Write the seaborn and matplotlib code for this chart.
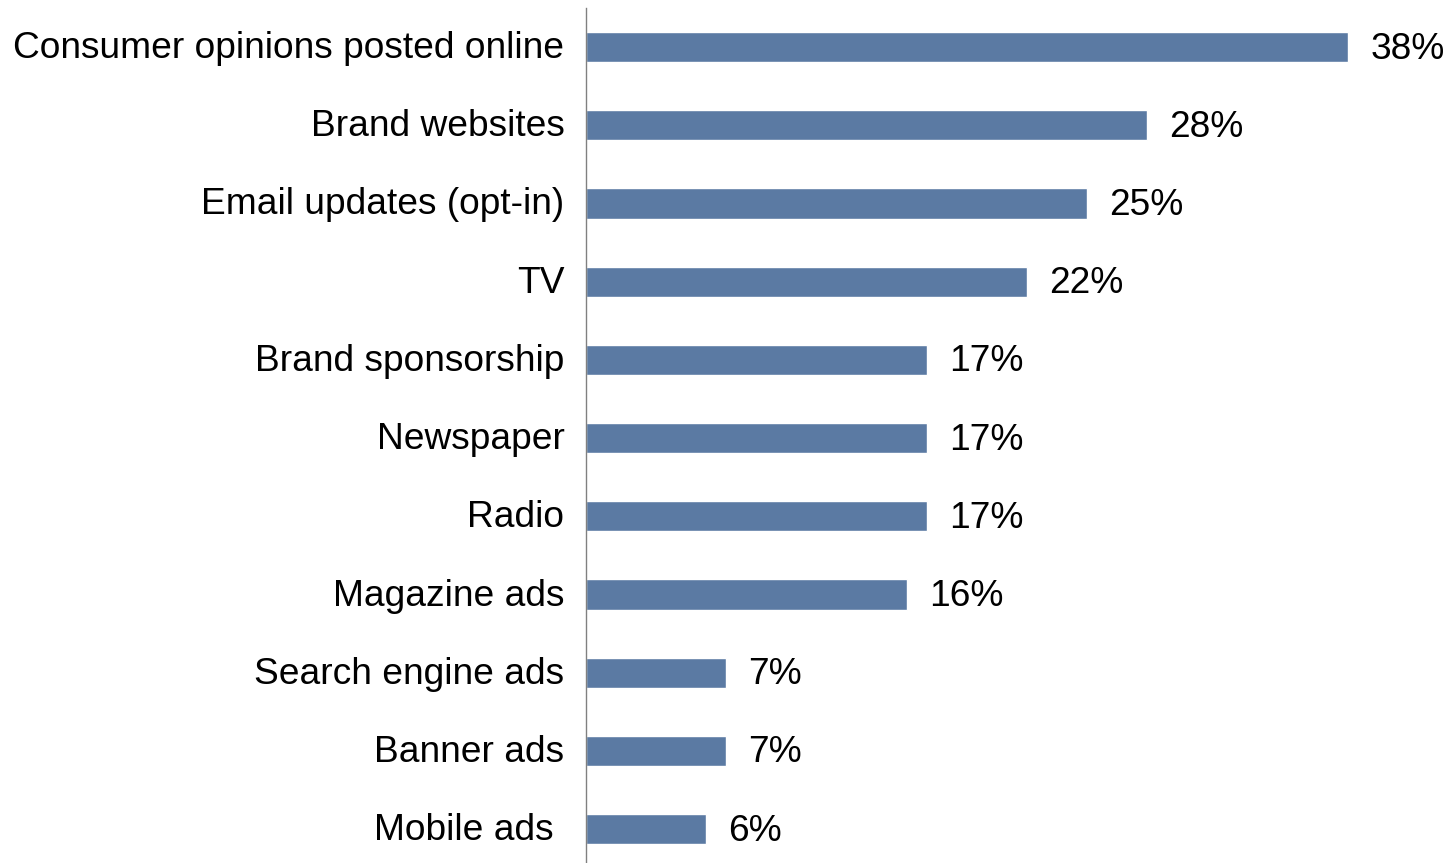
import matplotlib
matplotlib.use("Agg")
import matplotlib.pyplot as plt
import matplotlib.transforms as mtransforms
import seaborn as sns
import pandas as pd

categories = [
    "Consumer opinions posted online",
    "Brand websites",
    "Email updates (opt-in)",
    "TV",
    "Brand sponsorship",
    "Newspaper",
    "Radio",
    "Magazine ads",
    "Search engine ads",
    "Banner ads",
    "Mobile ads ",
]
values = [38, 28, 25, 22, 17, 17, 17, 16, 7, 7, 6]

df = pd.DataFrame({"channel": categories, "share": values})

sns.set_theme(style="white")
plt.rcParams["font.family"] = ["Liberation Sans", "DejaVu Sans"]

W, H, DPI = 1448, 863, 100
fig = plt.figure(figsize=(W / DPI, H / DPI), dpi=DPI)

px_per_unit = 20.05
left_px, top_px = 586, 8
ax_w = 40 * px_per_unit
ax = fig.add_axes([left_px / W, 0, ax_w / W, (H - top_px) / H])

sns.barplot(data=df, x="share", y="channel", orient="h", ax=ax,
            color="#5B7AA3", saturation=1, width=0.384)

ax.set_xlim(0, 40)
slot = 78.2
ax.set_ylim(-0.5 + (H - top_px) / slot, -0.5)

FS = 26.7
vals = ax.bar_label(ax.containers[0], labels=[f"{v}%" for v in values],
                    padding=16, fontsize=FS, color="black")
for t in vals:
    t.xyann = (16, -1.5)

ax.set_xlabel("")
ax.set_ylabel("")
ax.set_xticks([])
ax.tick_params(axis="y", length=0, pad=15.5, labelsize=FS, labelcolor="black")
up = mtransforms.ScaledTranslation(0, 1.8 / 72, fig.dpi_scale_trans)
for lab in ax.get_yticklabels():
    lab.set_transform(lab.get_transform() + up)

for side in ["top", "right", "bottom"]:
    ax.spines[side].set_visible(False)
ax.spines["left"].set_color("#808080")
ax.spines["left"].set_linewidth(1.0)

fig.savefig("out.png", dpi=DPI, facecolor="white")
